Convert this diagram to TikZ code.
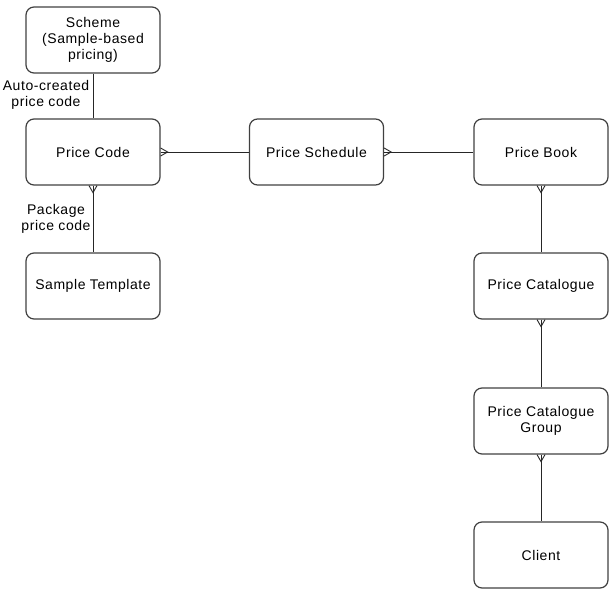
\documentclass[tikz,border=0pt]{standalone}
\usepackage{fontspec}
\setmainfont{Liberation Sans}[LetterSpace=4]
\begin{document}
\begin{tikzpicture}[x=1pt,y=-1pt,
  box/.style={draw=black!75,line width=1.2pt,rounded corners=8pt,minimum width=134pt,minimum height=66pt,inner sep=0pt,align=center,font=\fontsize{14}{16}\selectfont},
  lbl/.style={align=center,inner sep=0pt,font=\fontsize{14}{16}\selectfont},
  conn/.style={draw=black!85,line width=0.9pt},
  crow/.style={draw=black!85,line width=0.9pt}]
\useasboundingbox (0,0) rectangle (615,596);
\node[box] (sch) at (93,40) {Scheme\\(Sample-based\\pricing)};
\node[box] (pc) at (93,152) {Price Code};
\node[box] (st) at (93,286) {Sample Template};
\node[box] (ps) at (316.5,152) {Price Schedule};
\node[box] (pb) at (541,152) {Price Book};
\node[box] (cat) at (541,286) {Price Catalogue};
\node[box] (grp) at (541,421) {Price Catalogue\\Group};
\node[box] (cl) at (541,555) {Client};
\node[lbl] (l1) at (46,95) {Auto-created\\price code};
\node[lbl] (l2) at (56,219) {Package\\price code};
\draw[conn] (sch) -- (pc);
\draw[conn] (pc) -- (st);
\draw[conn] (pc) -- (ps);
\draw[conn] (ps) -- (pb);
\draw[conn] (pb) -- (cat);
\draw[conn] (cat) -- (grp);
\draw[conn] (grp) -- (cl);
% crow's feet
\draw[crow] (pc.east) ++(0,-4) -- ++(7,4) -- ++(-7,4);
\draw[crow] (ps.east) ++(0,-4) -- ++(7,4) -- ++(-7,4);
\draw[crow] (pc.south) ++(-4,0) -- ++(4,7) -- ++(4,-7);
\draw[crow] (pb.south) ++(-4,0) -- ++(4,7) -- ++(4,-7);
\draw[crow] (cat.south) ++(-4,0) -- ++(4,7) -- ++(4,-7);
\draw[crow] (grp.south) ++(-4,0) -- ++(4,7) -- ++(4,-7);
\end{tikzpicture}
\end{document}
